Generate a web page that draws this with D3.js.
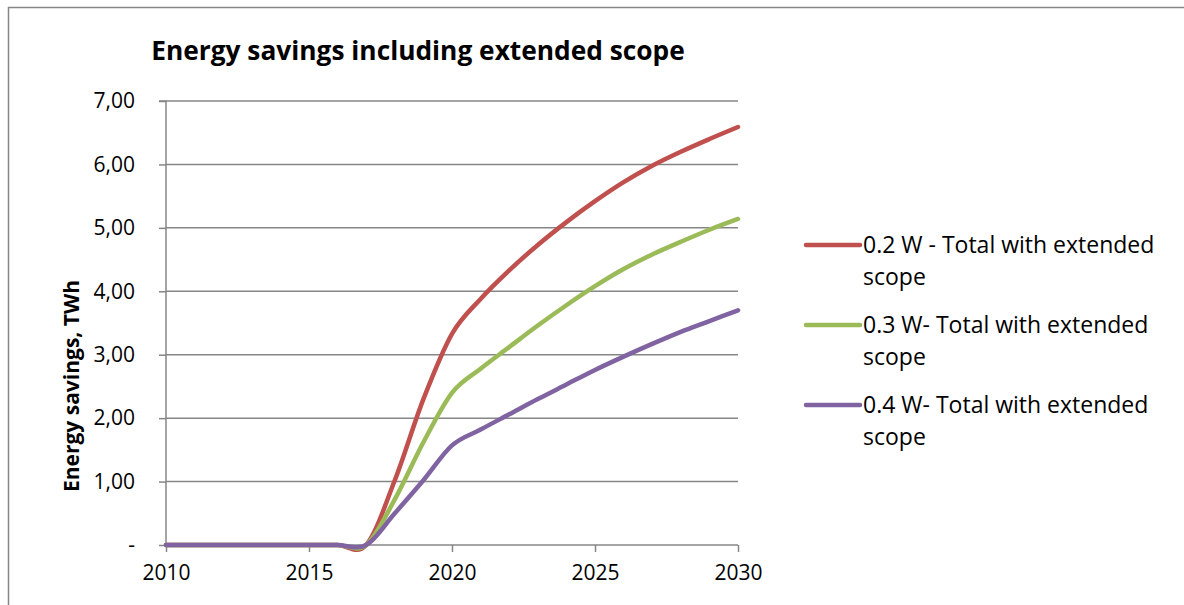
<!DOCTYPE html>
<html>
<head>
<meta charset="utf-8">
<script src="https://cdn.jsdelivr.net/npm/d3@7/dist/d3.min.js"></script>
<style>
  html, body { margin: 0; padding: 0; background: #fff; }
  svg { display: block; font-family: "Open Sans", Lato, sans-serif; }
</style>
</head>
<body>
<svg id="chart" width="1184" height="605"></svg>
<script>
// Annual energy savings (TWh), 2010–2030
const years = d3.range(2010, 2031);
const series02 = [0, 0, 0, 0, 0, 0, 0, 0, 1.02, 2.3, 3.33, 3.88, 4.33, 4.73, 5.09, 5.42, 5.72, 5.98, 6.20, 6.40, 6.59];
const series03 = [0, 0, 0, 0, 0, 0, 0, 0, 0.72, 1.62, 2.40, 2.78, 3.12, 3.46, 3.78, 4.08, 4.35, 4.58, 4.78, 4.97, 5.14];
const series04 = [0, 0, 0, 0, 0, 0, 0, 0, 0.50, 1.02, 1.57, 1.82, 2.06, 2.30, 2.53, 2.76, 2.97, 3.17, 3.36, 3.53, 3.70];
const seriesNames = ["0.2 W - Total with extended scope", "0.3 W- Total with extended scope", "0.4 W- Total with extended scope"];
const seriesColors = ["#C0504D", "#9BBB59", "#8064A2"];
const yTicks = [0, 1, 2, 3, 4, 5, 6, 7];
const xTicks = [2010, 2015, 2020, 2025, 2030];
const chartTitle = "Energy savings including extended scope";
const yTitle = "Energy savings, TWh";

const svg = d3.select("#chart");
const grid = "#868686";

// outer chart frame
svg.append("rect")
  .attr("x", 8.5).attr("y", 7.5).attr("width", 1300).attr("height", 700)
  .attr("fill", "none").attr("stroke", grid).attr("stroke-width", 1.5);

const x = d3.scaleLinear().domain([2010, 2030]).range([166, 738]);
const y = d3.scaleLinear().domain([0, 7]).range([545, 101]);

// horizontal gridlines
svg.append("g").selectAll("line").data(yTicks.filter(d => d > 0)).join("line")
  .attr("x1", x(2010)).attr("x2", x(2030))
  .attr("y1", d => y(d)).attr("y2", d => y(d))
  .attr("stroke", grid).attr("stroke-width", 1.5);

// y axis
const yAxis = d3.axisLeft(y).tickValues(yTicks).tickSize(7).tickPadding(24)
  .tickFormat(d => d === 0 ? "-" : d3.format(".2f")(d).replace(".", ","));
const gy = svg.append("g").attr("transform", `translate(${x(2010)},0)`).call(yAxis);
gy.select(".domain").attr("stroke", grid).attr("stroke-width", 1.5).attr("d", `M-7,${y(7)}H0V${y(0)}`);
gy.selectAll(".tick line").attr("stroke", grid).attr("stroke-width", 1.5);
gy.selectAll(".tick text").attr("font-size", 21).attr("fill", "#000")
  .attr("font-family", "'Open Sans', sans-serif");

// x axis
const xAxis = d3.axisBottom(x).tickValues(xTicks).tickSize(7).tickPadding(13).tickFormat(d3.format("d"));
const gx = svg.append("g").attr("transform", `translate(0,${y(0)})`).call(xAxis);
gx.select(".domain").attr("stroke", grid).attr("stroke-width", 1.5).attr("d", `M${x(2010)},0H${x(2030)}`);
gx.selectAll(".tick line").attr("stroke", grid).attr("stroke-width", 1.5);
gx.selectAll(".tick text").attr("font-size", 21).attr("fill", "#000")
  .attr("font-family", "'Open Sans', sans-serif");

// series lines
const line = d3.line()
  .x((d, i) => x(years[i]))
  .y(d => y(d))
  .curve(d3.curveCardinal.tension(0));
const allSeries = [series02, series03, series04];
svg.append("g").selectAll("path").data(allSeries).join("path")
  .attr("d", line)
  .attr("fill", "none")
  .attr("stroke", (d, i) => seriesColors[i])
  .attr("stroke-width", 4.5)
  .attr("stroke-linejoin", "round")
  .attr("stroke-linecap", "round");

// title
svg.append("text")
  .attr("x", 418).attr("y", 60).attr("text-anchor", "middle")
  .attr("font-size", 26.3).attr("font-weight", "bold").attr("fill", "#000")
  .text(chartTitle);

// y axis title
svg.append("text")
  .attr("transform", "translate(79,386) rotate(-90)")
  .attr("text-anchor", "middle")
  .attr("font-size", 21).attr("font-weight", "bold").attr("fill", "#000")
  .text(yTitle);

// legend
const legend = svg.append("g");
const legendRows = legend.selectAll("g").data(seriesNames).join("g")
  .attr("transform", (d, i) => `translate(0,${245 + i * 80})`);
legendRows.append("line")
  .attr("x1", 806).attr("x2", 860).attr("y1", 0).attr("y2", 0)
  .attr("stroke", (d, i) => seriesColors[i]).attr("stroke-width", 4.5).attr("stroke-linecap", "round");
const lt = legendRows.append("text")
  .attr("x", 863).attr("y", 8).attr("font-size", 23).attr("fill", "#000");
lt.append("tspan").attr("x", 863).attr("dy", 0).text(d => d.replace(/ scope$/, ""));
lt.append("tspan").attr("x", 863).attr("dy", 32).text("scope");
</script>
</body>
</html>
